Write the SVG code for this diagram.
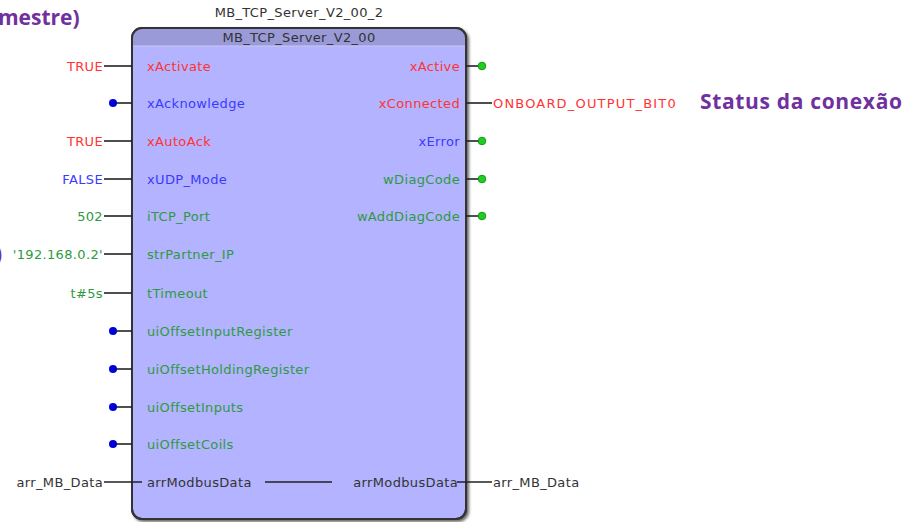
<svg xmlns="http://www.w3.org/2000/svg" width="907" height="522" viewBox="0 0 907 522">
  <defs>
    <filter id="shadow" x="-5%" y="-5%" width="115%" height="115%">
      <feGaussianBlur in="SourceAlpha" stdDeviation="1.5"/>
      <feOffset dx="2" dy="2" result="b"/>
      <feComponentTransfer><feFuncA type="linear" slope="0.6"/></feComponentTransfer>
      <feMerge><feMergeNode/><feMergeNode in="SourceGraphic"/></feMerge>
    </filter>
    <clipPath id="blockClip"><rect x="132" y="28" width="334" height="491" rx="10"/></clipPath>
  </defs>
  <style>
    text { font-family: "DejaVu Sans", "Liberation Sans", sans-serif; font-size: 13px; letter-spacing: 0.35px; }
    .red { fill: #ff3333; }
    .blue { fill: #3a3aff; }
    .green { fill: #2e9a3e; }
    .dark { fill: #333333; }
    .pin { stroke: #222; stroke-width: 1.6; fill: none; }
    .in-dot { fill: #0000d8; }
    .out-dot { fill: #22cc22; stroke: #119911; stroke-width: 1; }
    .note { font-family: "Open Sans", "Liberation Sans", sans-serif; font-weight: bold; fill: #7030a0; font-size: 21px; letter-spacing: 0; }
    .end { text-anchor: end; }
  </style>

  <!-- annotation texts -->
  <text class="note" x="-2" y="25">mestre)</text>
  <text class="note" x="-5" y="261">)</text>
  <text class="note" x="700" y="109" textLength="202">Status da conexão</text>

  <!-- function block -->
  <g id="block">
    <text class="dark" x="299" y="17" text-anchor="middle">MB_TCP_Server_V2_00_2</text>
    <rect x="132" y="28" width="334" height="491" rx="10" fill="#b3b3ff" stroke="#333" stroke-width="2" filter="url(#shadow)"/>
    <rect x="132" y="28" width="334" height="18" fill="#9a9ad8" clip-path="url(#blockClip)"/>
    <line x1="133" y1="46" x2="465" y2="46" stroke="#c8c8f0" stroke-width="1"/>
    <rect x="132" y="28" width="334" height="491" rx="10" fill="none" stroke="#333" stroke-width="2"/>
    <text class="dark" x="299" y="42" text-anchor="middle">MB_TCP_Server_V2_00</text>
  </g>

  <!-- connectors -->
  <g id="connectors">
    <line class="pin" x1="104" y1="66" x2="132" y2="66"/>
    <line class="pin" x1="113" y1="103" x2="132" y2="103"/>
    <line class="pin" x1="104" y1="141" x2="132" y2="141"/>
    <line class="pin" x1="104" y1="179" x2="132" y2="179"/>
    <line class="pin" x1="104" y1="216" x2="132" y2="216"/>
    <line class="pin" x1="104" y1="254" x2="132" y2="254"/>
    <line class="pin" x1="104" y1="293" x2="132" y2="293"/>
    <line class="pin" x1="113" y1="331" x2="132" y2="331"/>
    <line class="pin" x1="113" y1="369" x2="132" y2="369"/>
    <line class="pin" x1="113" y1="407" x2="132" y2="407"/>
    <line class="pin" x1="113" y1="444" x2="132" y2="444"/>
    <line class="pin" x1="104" y1="482" x2="142" y2="482"/>
    <line class="pin" x1="466" y1="66" x2="482" y2="66"/>
    <line class="pin" x1="466" y1="103" x2="492" y2="103"/>
    <line class="pin" x1="466" y1="141" x2="482" y2="141"/>
    <line class="pin" x1="466" y1="179" x2="482" y2="179"/>
    <line class="pin" x1="466" y1="216" x2="482" y2="216"/>
    <line class="pin" x1="457" y1="482" x2="492" y2="482"/>
    <line class="pin" x1="265" y1="482" x2="332" y2="482"/>
    <circle class="in-dot" cx="113" cy="103" r="4"/>
    <circle class="in-dot" cx="113" cy="331" r="4"/>
    <circle class="in-dot" cx="113" cy="369" r="4"/>
    <circle class="in-dot" cx="113" cy="407" r="4"/>
    <circle class="in-dot" cx="113" cy="444" r="4"/>
    <circle class="out-dot" cx="482" cy="66" r="3.8"/>
    <circle class="out-dot" cx="482" cy="141" r="3.8"/>
    <circle class="out-dot" cx="482" cy="179" r="3.8"/>
    <circle class="out-dot" cx="482" cy="216" r="3.8"/>
  </g>

  <!-- input values -->
  <g id="inputs">
    <text class="red end" x="103" y="71">TRUE</text>
    <text class="red end" x="103" y="146">TRUE</text>
    <text class="blue end" x="103" y="184">FALSE</text>
    <text class="green end" x="103" y="221">502</text>
    <text class="green end" x="103" y="259">'192.168.0.2'</text>
    <text class="green end" x="103" y="298">t#5s</text>
    <text class="dark end" x="103" y="487">arr_MB_Data</text>
  </g>

  <!-- block input labels -->
  <g id="input-labels">
    <text class="red" x="147" y="71">xActivate</text>
    <text class="blue" x="147" y="108">xAcknowledge</text>
    <text class="red" x="147" y="146">xAutoAck</text>
    <text class="blue" x="147" y="184">xUDP_Mode</text>
    <text class="green" x="147" y="221">iTCP_Port</text>
    <text class="green" x="147" y="259">strPartner_IP</text>
    <text class="green" x="147" y="298">tTimeout</text>
    <text class="green" x="147" y="336">uiOffsetInputRegister</text>
    <text class="green" x="147" y="374">uiOffsetHoldingRegister</text>
    <text class="green" x="147" y="412">uiOffsetInputs</text>
    <text class="green" x="147" y="449">uiOffsetCoils</text>
    <text class="dark" x="147" y="487">arrModbusData</text>
  </g>

  <!-- block output labels -->
  <g id="output-labels">
    <text class="red end" x="460" y="71">xActive</text>
    <text class="red end" x="460" y="108">xConnected</text>
    <text class="blue end" x="460" y="146">xError</text>
    <text class="green end" x="460" y="184">wDiagCode</text>
    <text class="green end" x="460" y="221">wAddDiagCode</text>
    <text class="dark end" x="458" y="487">arrModbusData</text>
  </g>

  <!-- output variables -->
  <g id="outputs">
    <text class="red" x="493" y="108" textLength="183">ONBOARD_OUTPUT_BIT0</text>
    <text class="dark" x="493" y="487">arr_MB_Data</text>
  </g>
</svg>
